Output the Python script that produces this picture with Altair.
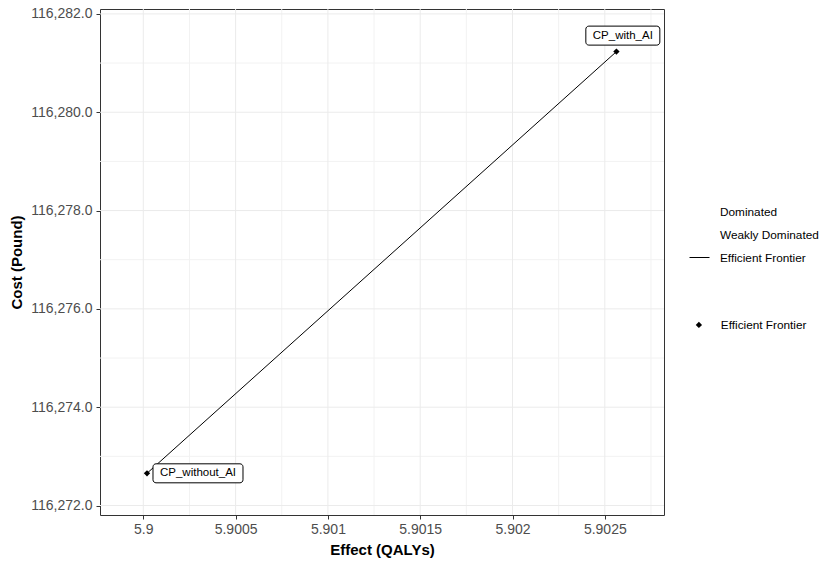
import altair as alt
import pandas as pd

# ---- data ----
strategies = ["CP_without_AI", "CP_with_AI"]
effects = [5.90002, 5.902563]
costs = [116272.655, 116281.233]
status = ["Efficient Frontier", "Efficient Frontier"]

legend_line_entries = ["Dominated", "Weakly Dominated", "Efficient Frontier"]
legend_point_entries = ["Efficient Frontier"]

x_ticks = [5.9, 5.9005, 5.901, 5.9015, 5.902, 5.9025]
x_minor = [5.90025, 5.90075, 5.90125, 5.90175, 5.90225, 5.90275]
y_ticks = [116272, 116274, 116276, 116278, 116280, 116282]
y_minor = [116273, 116275, 116277, 116279, 116281]

x_domain = [5.8997654, 5.9028207]
y_domain = [116271.807, 116282.10]

df = pd.DataFrame({"strategy": strategies, "effect": effects, "cost": costs, "status": status})

FONT = "Liberation Sans"
xs = alt.Scale(domain=x_domain, nice=False, zero=False)
ys = alt.Scale(domain=y_domain, nice=False, zero=False)
x_axis = alt.Axis(values=x_ticks, format=".4~f", tickSize=4, labelPadding=3, titlePadding=6)
y_axis = alt.Axis(values=y_ticks, format=",.1f", tickSize=4, labelPadding=4, titlePadding=6)


def X(field):
    return alt.X(field, type="quantitative", scale=xs, axis=x_axis, title="Effect (QALYs)")


def Y(field):
    return alt.Y(field, type="quantitative", scale=ys, axis=y_axis, title="Cost (Pound)")


grid_major_x = alt.Chart(pd.DataFrame({"v": x_ticks})).mark_rule(color="#EBEBEB", strokeWidth=1).encode(x=X("v"))
grid_minor_x = alt.Chart(pd.DataFrame({"v": x_minor})).mark_rule(color="#F2F2F2", strokeWidth=1).encode(x=X("v"))
grid_major_y = alt.Chart(pd.DataFrame({"v": y_ticks})).mark_rule(color="#EBEBEB", strokeWidth=1).encode(y=Y("v"))
grid_minor_y = alt.Chart(pd.DataFrame({"v": y_minor})).mark_rule(color="#F2F2F2", strokeWidth=1).encode(y=Y("v"))

base = alt.Chart(df)

line = base.mark_line(strokeWidth=1).encode(
    x=X("effect"),
    y=Y("cost"),
    color=alt.Color("status:N",
                    scale=alt.Scale(domain=legend_line_entries,
                                    range=["transparent", "transparent", "black"]),
                    legend=alt.Legend(title=None, orient="none", legendX=589, legendY=192,
                                      symbolType="stroke", symbolSize=400, symbolStrokeWidth=1,
                                      labelFontSize=11.8, labelColor="black", labelFont=FONT,
                                      labelOffset=10, rowPadding=5, padding=0)),
)

points = base.mark_point(filled=True, size=40, color="black", opacity=1).encode(
    x=X("effect"),
    y=Y("cost"),
    shape=alt.Shape("status:N",
                    scale=alt.Scale(domain=legend_point_entries, range=["diamond"]),
                    legend=alt.Legend(title=None, orient="none", legendX=593, legendY=310,
                                      symbolSize=40, symbolFillColor="black", symbolStrokeColor="black",
                                      labelFontSize=11.8, labelColor="black", labelFont=FONT,
                                      labelOffset=16, padding=0)),
)


def label_layer(name, box_w, dx, dy):
    sub = base.transform_filter(alt.datum.strategy == name)
    box = sub.mark_rect(width=box_w, height=19, xOffset=dx, yOffset=dy, cornerRadius=3,
                        fill="white", stroke="black", strokeWidth=1).encode(
        x=X("effect"), y=Y("cost"))
    txt = sub.mark_text(dx=dx, dy=dy, align="center", baseline="middle", font=FONT,
                        fontSize=11.5, color="black").encode(
        x=X("effect"), y=Y("cost"), text="strategy:N")
    return box + txt


lab1 = label_layer("CP_without_AI", 90, 51, 0)
lab2 = label_layer("CP_with_AI", 74, 6.4, -16)

chart = alt.layer(
    grid_minor_x, grid_minor_y, grid_major_x, grid_major_y, line, points, lab1, lab2
).properties(
    width=564, height=506,
    autosize=alt.AutoSizeParams(type="none"),
    padding={"left": 100, "top": 9, "right": 157, "bottom": 47},
    background="white",
).configure_view(
    stroke="#333333", strokeWidth=1
).configure_axis(
    domain=False, grid=False, tickColor="#333333", tickWidth=1,
    labelFont=FONT, labelFontSize=14, labelColor="#4D4D4D",
    titleFont=FONT, titleFontSize=15, titleFontWeight="bold", titleColor="black",
)

chart.save("out.html", embed_options={"renderer": "svg", "actions": False})
